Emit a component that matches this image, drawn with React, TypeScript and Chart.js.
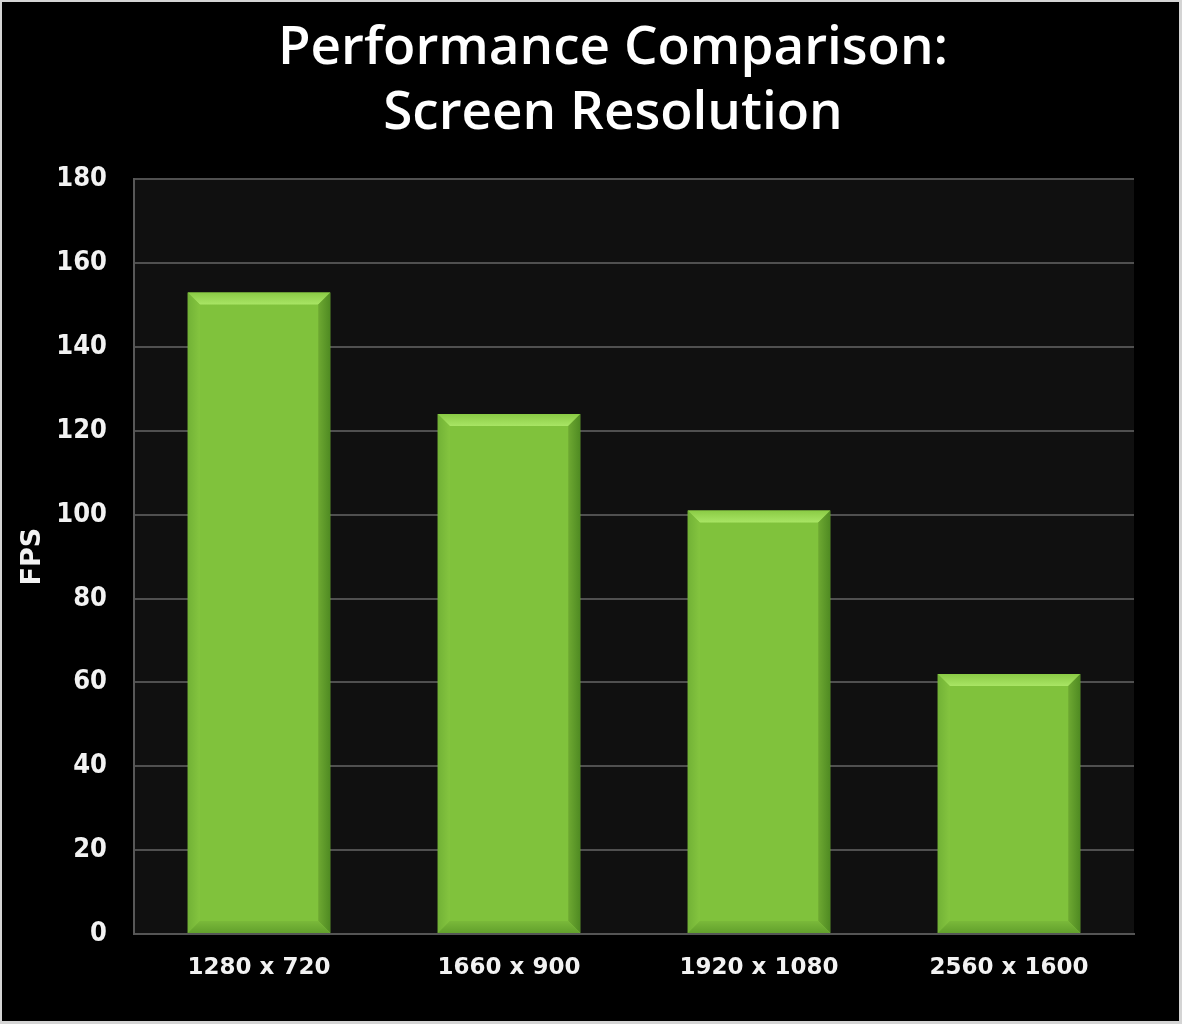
import React, { useEffect, useRef } from "react";
import { Chart, registerables } from "chart.js";

Chart.register(...registerables);

const categories = ["1280 x 720", "1660 x 900", "1920 x 1080", "2560 x 1600"];
const fpsValues = [153, 124, 101, 62];
const titleLines = ["Performance Comparison:", "Screen Resolution"];
const yAxisLabel = "FPS";
const yMin = 0;
const yMax = 180;
const yStep = 20;

const plotBgPlugin = {
  id: "plotBg",
  afterLayout(chart: any) {
    // centre the title a little right of the canvas centre, as in the source slide
    if (chart.titleBlock) {
      chart.titleBlock.left = 92;
    }
  },
  beforeDraw(chart: any) {
    const { ctx, chartArea } = chart;
    ctx.save();
    ctx.fillStyle = "#101010";
    ctx.fillRect(chartArea.left, chartArea.top, chartArea.right - chartArea.left, chartArea.bottom - chartArea.top);
    ctx.restore();
  },
};

const bevelPlugin = {
  id: "bevel",
  afterDatasetsDraw(chart: any) {
    const { ctx } = chart;
    const meta = chart.getDatasetMeta(0);
    const b = 12;
    meta.data.forEach((el: any) => {
      const p = el.getProps(["x", "y", "base", "width"], true);
      const l = p.x - p.width / 2;
      const r = p.x + p.width / 2;
      const t = p.y;
      const bt = p.base;
      ctx.save();
      const gTop = ctx.createLinearGradient(0, t, 0, t + b);
      gTop.addColorStop(0, "#8acb45");
      gTop.addColorStop(1, "#a9e565");
      ctx.fillStyle = gTop;
      ctx.beginPath();
      ctx.moveTo(l, t);
      ctx.lineTo(r, t);
      ctx.lineTo(r - b, t + b);
      ctx.lineTo(l + b, t + b);
      ctx.closePath();
      ctx.fill();
      const gL = ctx.createLinearGradient(l, 0, l + b, 0);
      gL.addColorStop(0, "#72b236");
      gL.addColorStop(1, "#84c43f");
      ctx.fillStyle = gL;
      ctx.beginPath();
      ctx.moveTo(l, t);
      ctx.lineTo(l + b, t + b);
      ctx.lineTo(l + b, bt - b);
      ctx.lineTo(l, bt);
      ctx.closePath();
      ctx.fill();
      const gR = ctx.createLinearGradient(r - b, 0, r, 0);
      gR.addColorStop(0, "#6ea932");
      gR.addColorStop(1, "#4f8a22");
      ctx.fillStyle = gR;
      ctx.beginPath();
      ctx.moveTo(r, t);
      ctx.lineTo(r, bt);
      ctx.lineTo(r - b, bt - b);
      ctx.lineTo(r - b, t + b);
      ctx.closePath();
      ctx.fill();
      const gB = ctx.createLinearGradient(0, bt - b, 0, bt);
      gB.addColorStop(0, "#7ab93a");
      gB.addColorStop(1, "#62a02c");
      ctx.fillStyle = gB;
      ctx.beginPath();
      ctx.moveTo(l, bt);
      ctx.lineTo(l + b, bt - b);
      ctx.lineTo(r - b, bt - b);
      ctx.lineTo(r, bt);
      ctx.closePath();
      ctx.fill();
      ctx.restore();
    });
  },
};

export default function App() {
  const ref = useRef<HTMLCanvasElement | null>(null);

  useEffect(() => {
    document.body.style.margin = "0";
    document.body.style.background = "#000";
    const canvas = ref.current;
    if (!canvas) return;
    const chart = new Chart(canvas, {
      type: "bar",
      data: {
        labels: categories,
        datasets: [
          {
            label: yAxisLabel,
            data: fpsValues,
            backgroundColor: "#80c23c",
            borderWidth: 0,
            barPercentage: 0.57,
            categoryPercentage: 1,
          },
        ],
      },
      options: {
        responsive: false,
        animation: false,
        layout: { padding: { left: 0, right: 48, top: 0, bottom: 0 } },
        plugins: {
          legend: { display: false },
          tooltip: { enabled: false },
          title: {
            display: true,
            text: titleLines,
            color: "#ffffff",
            font: { family: "'Open Sans', sans-serif", size: 53, weight: "600", lineHeight: 1.22 },
            padding: { top: 17, bottom: 33 },
          },
        },
        scales: {
          x: {
            grid: { display: false, drawTicks: false },
            border: { display: true, color: "#555555", width: 2 },
            ticks: {
              color: "#f2f2f2",
              font: { family: "'DejaVu Sans', sans-serif", size: 23, weight: "bold" },
              padding: 20,
              maxRotation: 0,
            },
            afterFit: (scale: any) => {
              scale.height = 90;
            },
          },
          y: {
            min: yMin,
            max: yMax,
            ticks: {
              stepSize: yStep,
              color: "#f2f2f2",
              font: { family: "'DejaVu Sans Condensed', 'DejaVu Sans', sans-serif", size: 27, weight: "bold" },
              padding: 27,
            },
            grid: { color: "#505050", lineWidth: 2, drawTicks: false },
            border: { display: true, color: "#585858", width: 2 },
            title: {
              display: true,
              text: yAxisLabel,
              color: "#f2f2f2",
              font: { family: "'DejaVu Sans', sans-serif", size: 27, weight: "bold" },
              padding: { top: 17, bottom: 0 },
            },
            afterFit: (scale: any) => {
              scale.width = 134;
            },
          },
        },
      },
      plugins: [plotBgPlugin, bevelPlugin],
    });
    return () => chart.destroy();
  }, []);

  return (
    <div style={{ position: "relative", width: 1182, height: 1024, background: "#000" }}>
      <canvas ref={ref} width={1182} height={1024} style={{ display: "block" }} />
      <div
        style={{
          position: "absolute",
          left: 0,
          top: 0,
          width: 1182,
          height: 1024,
          boxSizing: "border-box",
          borderStyle: "solid",
          borderColor: "#d4d4d4",
          borderWidth: "2px 3px 3px 2px",
          pointerEvents: "none",
        }}
      />
    </div>
  );
}
